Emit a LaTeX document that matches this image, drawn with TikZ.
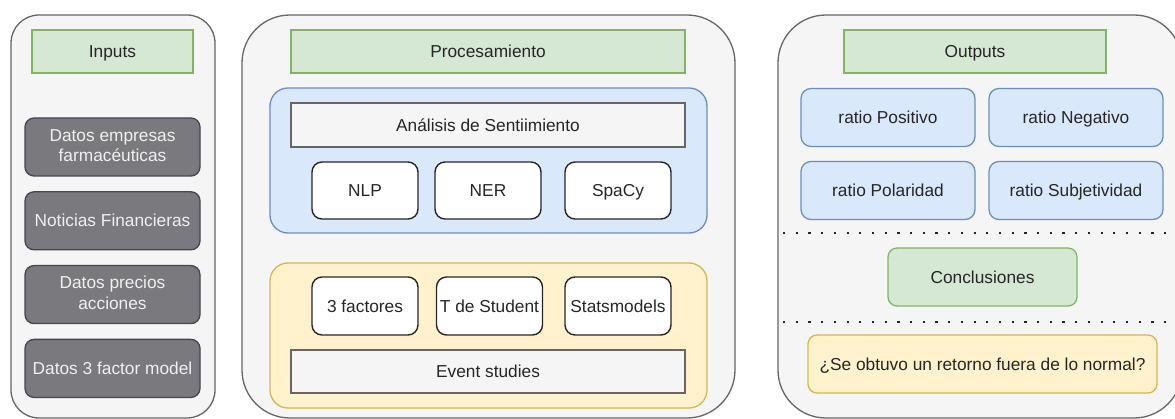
\documentclass[tikz,border=0pt]{standalone}
\usepackage{fontspec}
\setmainfont{Liberation Sans}
\usetikzlibrary{positioning}
\definecolor{panelfill}{HTML}{F5F5F5}
\definecolor{panelline}{HTML}{666666}
\definecolor{greenfill}{HTML}{D5E8D4}
\definecolor{greenline}{HTML}{82B366}
\definecolor{bluefill}{HTML}{DAE8FC}
\definecolor{blueline}{HTML}{6C8EBF}
\definecolor{yellowfill}{HTML}{FFF2CC}
\definecolor{yellowline}{HTML}{D6B656}
\definecolor{darkfill}{HTML}{7A797D}
\definecolor{darkline}{HTML}{4A4452}
\definecolor{inktext}{HTML}{262626}
% fixed strut so every label sits on the same baseline
\newcommand{\vstrut}{\rule[-3.3pt]{0pt}{18.8pt}}
\tikzset{
  panel/.style={
    draw=panelline,
    fill=panelfill,
    line width=1.3pt,
    inner sep=0pt,
    minimum height=403pt
  },
  title/.style={
    draw=greenline,
    fill=greenfill,
    line width=1.3pt,
    inner sep=0pt,
    minimum height=43pt
  },
  group/.style={
    draw,
    line width=1.3pt,
    rounded corners=18pt,
    inner sep=0pt,
    minimum width=437pt,
    minimum height=145pt
  },
  source/.style={
    draw=darkline,
    fill=darkfill,
    text=white!94!black,
    line width=1.3pt,
    rounded corners=9pt,
    align=center,
    inner sep=0pt,
    minimum width=175pt,
    minimum height=58pt
  },
  tool/.style={
    draw=black!85,
    fill=white,
    line width=1.4pt,
    rounded corners=10pt,
    inner sep=0pt,
    minimum width=106pt,
    minimum height=57pt
  },
  band/.style={
    draw=panelline,
    fill=panelfill,
    line width=1.3pt,
    inner sep=0pt,
    minimum width=394pt,
    minimum height=44pt
  },
  ratio/.style={
    draw=blueline,
    fill=bluefill,
    line width=1.3pt,
    rounded corners=10pt,
    inner sep=0pt,
    minimum width=174pt,
    minimum height=58pt
  },
  separator/.style={
    draw=black!85,
    line width=2.2pt,
    dash pattern=on 2.2pt off 10.5pt
  }
}

\begin{document}
\begin{tikzpicture}[x=1pt, y=-1pt, font=\fontsize{17.3}{20.5}\selectfont, text=inktext,
  execute at begin node=\vstrut, execute at end node=\vstrut]
  \useasboundingbox (0,0) rectangle (1175,419);
  \clip (0,0) rectangle (1175,419);
  \fill[white] (0,0) rectangle (1175,419);

  % three columns
  \node[panel, rounded corners=28pt, minimum width=204pt] (inpanel) at (113,216.5) {};
  \node[panel, rounded corners=48pt, minimum width=493pt] (procpanel) at (488.5,216.5) {};
  \node[panel, rounded corners=48pt, minimum width=404pt] (outpanel) at (980,216.5) {};

  % inputs
  \node[title, minimum width=161pt] (inputs) at (112.5,51.5) {Inputs};
  \node[source] (empresas) at (112.5,147) {Datos empresas\\farmacéuticas};
  \node[source, below=14.5pt of empresas] (noticias) {Noticias Financieras};
  \node[source, below=14.5pt of noticias] (precios) {Datos precios\\acciones};
  \node[source, below=14.5pt of precios] (factor) {Datos 3 factor model};

  % processing
  \node[title, minimum width=394pt] (proc) at (488,51.5) {Procesamiento};

  \node[group, draw=blueline, fill=bluefill] (sentgroup) at (488.5,160.5) {};
  \node[band] (sentiment) at (488,125) {Análisis de Sentiimiento};
  \node[tool] (nlp) at (365,190.5) {NLP};
  \node[tool] (ner) at (488,190.5) {NER};
  \node[tool] (spacy) at (618,190.5) {SpaCy};

  \node[group, draw=yellowline, fill=yellowfill] (eventgroup) at (488.5,335.5) {};
  \node[tool, minimum height=58pt] (factores) at (365,306) {3 factores};
  \node[tool, minimum height=58pt] (student) at (489.5,306) {T de Student};
  \node[tool, minimum height=58pt] (stats) at (618,306) {Statsmodels};
  \node[band, minimum height=43pt] (event) at (488,371.5) {Event studies};

  % outputs
  \node[title, minimum width=262pt] (outputs) at (975,51.5) {Outputs};
  \node[ratio] (positivo) at (888,117.5) {ratio Positivo};
  \node[ratio] (negativo) at (1076,117.5) {ratio Negativo};
  \node[ratio] (polaridad) at (888,190.5) {ratio Polaridad};
  \node[ratio] (subjetividad) at (1076,190.5) {ratio Subjetividad};

  \coordinate (sepa) at (783,233);
  \coordinate (sepb) at (783,322);
  \draw[separator] (sepa) -- ++(400,0);
  \node[title, rounded corners=9pt, minimum width=189pt, minimum height=58pt] (conclusiones) at (982.5,277) {Conclusiones};
  \draw[separator] (sepb) -- ++(400,0);
  \node[ratio, draw=yellowline, fill=yellowfill, rounded corners=9pt, minimum width=349pt] (pregunta) at (982.5,364) {¿Se obtuvo un retorno fuera de lo normal?};
\end{tikzpicture}
\end{document}
